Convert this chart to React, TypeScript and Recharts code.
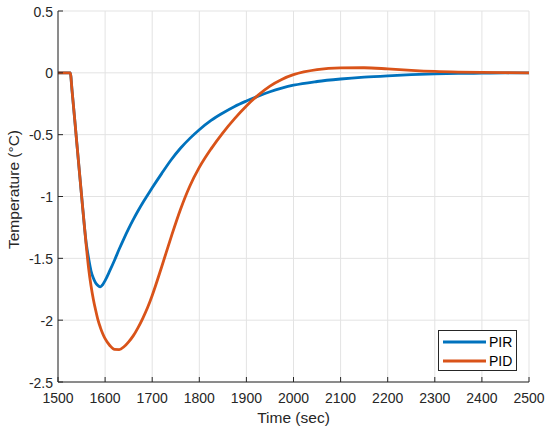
import { CartesianGrid, Label, Legend, Line, LineChart, XAxis, YAxis } from 'recharts'

const times = [
  1500, 1526, 1530, 1540, 1550, 1560, 1565, 1570, 1575, 1580, 1585, 1590, 1595, 1600, 1610, 1620,
  1630, 1640, 1650, 1660, 1670, 1680, 1690, 1700, 1720, 1740, 1760, 1780, 1800, 1825, 1850, 1875,
  1900, 1925, 1950, 1975, 2000, 2050, 2100, 2150, 2200, 2250, 2300, 2350, 2400, 2450, 2500,
]

const pir = [
  0, 0, -0.15, -0.57, -0.99, -1.38, -1.5, -1.6, -1.66, -1.7, -1.72, -1.73, -1.712, -1.68, -1.6,
  -1.515, -1.425, -1.34, -1.26, -1.185, -1.115, -1.05, -0.99, -0.93, -0.815, -0.705, -0.61, -0.53,
  -0.46, -0.385, -0.325, -0.272, -0.228, -0.188, -0.153, -0.124, -0.1, -0.07, -0.05, -0.035,
  -0.024, -0.015, -0.009, -0.005, -0.003, -0.001, 0,
]

const pid = [
  0, 0, -0.15, -0.57, -0.99, -1.4, -1.58, -1.72, -1.83, -1.92, -2.0, -2.06, -2.11, -2.15, -2.205,
  -2.237, -2.238, -2.215, -2.175, -2.125, -2.06, -1.985, -1.9, -1.8, -1.57, -1.33, -1.105, -0.915,
  -0.765, -0.615, -0.485, -0.37, -0.268, -0.18, -0.107, -0.053, -0.015, 0.026, 0.04, 0.041, 0.032,
  0.02, 0.011, 0.006, 0.003, 0.001, 0,
]

const xTicks = [1500, 1600, 1700, 1800, 1900, 2000, 2100, 2200, 2300, 2400, 2500]
const yTicks = [0.5, 0, -0.5, -1, -1.5, -2, -2.5]

const data = times.map((t, i) => ({ t, pir: pir[i], pid: pid[i] }))

const AXIS = '#262626'
const FONT = '"Liberation Sans", Arial, sans-serif'
const BLUE = '#0072BD'
const ORANGE = '#D95319'

function BottomTick({ x, y, payload }: any) {
  return (
    <g>
      <line x1={x} y1={y} x2={x} y2={y - 5} stroke={AXIS} />
      <text x={x} y={y + 21} textAnchor="middle" fill={AXIS} fontSize={14} fontFamily={FONT}>
        {payload.value}
      </text>
    </g>
  )
}

function TopTick({ x, y }: any) {
  return <line x1={x} y1={y} x2={x} y2={y + 5} stroke={AXIS} />
}

function LeftTick({ x, y, payload }: any) {
  return (
    <g>
      <line x1={x} y1={y} x2={x + 5} y2={y} stroke={AXIS} />
      <text x={x - 5} y={y + 5.5} textAnchor="end" fill={AXIS} fontSize={14} fontFamily={FONT}>
        {String(payload.value)}
      </text>
    </g>
  )
}

function RightTick({ x, y }: any) {
  return <line x1={x} y1={y} x2={x - 5} y2={y} stroke={AXIS} />
}

function XLabel({ viewBox }: any) {
  return (
    <text
      x={viewBox.x + viewBox.width / 2}
      y={viewBox.y + 41}
      textAnchor="middle"
      fill={AXIS}
      fontSize={15.5}
      fontFamily={FONT}
    >
      Time (sec)
    </text>
  )
}

function YLabel({ viewBox }: any) {
  const cx = viewBox.x + 5
  const cy = viewBox.y + viewBox.height / 2 - 7
  return (
    <text
      x={cx}
      y={cy}
      transform={`rotate(-90 ${cx} ${cy})`}
      textAnchor="middle"
      dominantBaseline="central"
      fill={AXIS}
      fontSize={15.5}
      fontFamily={FONT}
    >
      Temperature (°C)
    </text>
  )
}

function LegendBox() {
  const items = [
    { name: 'PIR', color: BLUE },
    { name: 'PID', color: ORANGE },
  ]
  return (
    <div
      style={{
        width: 79,
        height: 41,
        boxSizing: 'border-box',
        border: `1px solid ${AXIS}`,
        background: '#fff',
        paddingTop: 2,
        fontFamily: FONT,
        fontSize: 14,
        color: '#000',
      }}
    >
      {items.map((it) => (
        <div key={it.name} style={{ display: 'flex', alignItems: 'center', height: 18.5 }}>
          <svg width={50} height={10} style={{ display: 'block' }}>
            <line x1={4} y1={5} x2={47} y2={5} stroke={it.color} strokeWidth={2.8} />
          </svg>
          <span style={{ lineHeight: '18px' }}>{it.name}</span>
        </div>
      ))}
    </div>
  )
}

export default function App() {
  return (
    <div style={{ position: 'absolute', left: 0, top: 0, width: 550, height: 433, background: '#fff' }}>
      <LineChart
        width={550}
        height={433}
        data={data}
        margin={{ top: 11, right: 21, bottom: 21, left: 8 }}
        style={{ fontFamily: FONT }}
      >
        <CartesianGrid stroke="#e3e3e3" />
        <XAxis
          dataKey="t"
          type="number"
          domain={[1500, 2500]}
          ticks={xTicks}
          interval={0}
          height={30}
          tickSize={0}
          tickMargin={0}
          tickLine={false}
          axisLine={{ stroke: AXIS }}
          tick={<BottomTick />}
        >
          <Label content={<XLabel />} />
        </XAxis>
        <XAxis
          xAxisId="top"
          dataKey="t"
          type="number"
          orientation="top"
          domain={[1500, 2500]}
          ticks={xTicks}
          interval={0}
          height={0}
          tickSize={0}
          tickMargin={0}
          tickLine={false}
          axisLine={{ stroke: AXIS }}
          tick={<TopTick />}
        />
        <YAxis
          type="number"
          domain={[-2.5, 0.5]}
          ticks={yTicks}
          interval={0}
          width={50}
          tickSize={0}
          tickMargin={0}
          tickLine={false}
          axisLine={{ stroke: AXIS }}
          tick={<LeftTick />}
        >
          <Label content={<YLabel />} />
        </YAxis>
        <YAxis
          yAxisId="right"
          orientation="right"
          type="number"
          domain={[-2.5, 0.5]}
          ticks={yTicks}
          interval={0}
          width={0}
          tickSize={0}
          tickMargin={0}
          tickLine={false}
          axisLine={{ stroke: AXIS }}
          tick={<RightTick />}
        />
        <Legend
          layout="vertical"
          align="center"
          verticalAlign="middle"
          content={() => <LegendBox />}
          wrapperStyle={{ left: 438, top: 330, width: 79, height: 41 }}
        />
        <Line
          type="monotone"
          dataKey="pir"
          name="PIR"
          stroke={BLUE}
          strokeWidth={2.8}
          dot={false}
          activeDot={false}
          isAnimationActive={false}
        />
        <Line
          type="monotone"
          dataKey="pid"
          name="PID"
          stroke={ORANGE}
          strokeWidth={2.8}
          dot={false}
          activeDot={false}
          isAnimationActive={false}
        />
      </LineChart>
    </div>
  )
}
